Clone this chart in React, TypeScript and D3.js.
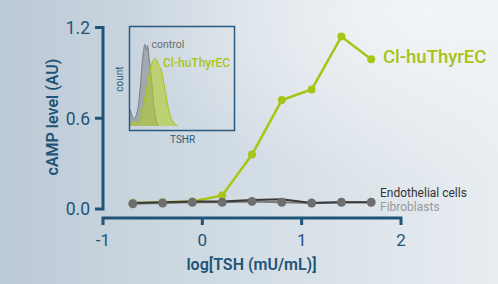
import React from "react";
import * as d3 from "d3";

const logTSH = [-0.7, -0.4, -0.1, 0.2, 0.5, 0.8, 1.1, 1.4, 1.7];
const huThyrEC = [0.04, 0.045, 0.05, 0.09, 0.36, 0.72, 0.79, 1.14, 0.99];
const endothelial = [0.04, 0.045, 0.05, 0.05, 0.06, 0.065, 0.04, 0.045, 0.045];
const fibroblasts = [0.035, 0.04, 0.045, 0.045, 0.05, 0.045, 0.04, 0.045, 0.045];
const xTicks = [-1, 0, 1, 2];
const yTicks = [0.0, 0.6, 1.2];

// inset histograms (channel 0..100, count 0..100)
const ctrlChan = [0, 3.8, 6.7, 9.6, 12.5, 14.4, 15.9, 16.8, 18.3, 20.2, 22.1, 23, 25, 26, 27.9];
const ctrlCount = [17.7, 7.3, 13.5, 37.5, 74, 85, 79, 84, 71, 54, 32, 20, 8, 3, 0];
const ecChan = [0, 2.9, 5.8, 8.7, 11.5, 15.4, 18.3, 20.2, 22.1, 24, 26, 27.9, 29.8, 31.7, 33.7, 35.6, 37.5, 39.4, 42.3, 46.2];
const ecCount = [2, 5, 2.6, 5, 14.6, 36, 53, 62.5, 68, 70, 68, 62.5, 59, 50, 37.5, 26, 15.6, 8.3, 3, 0];

const AX = "#1f5478";
const GREEN = "#a8c414";
const FONT = "Roboto, 'Noto Sans', sans-serif";

export default function App() {
  const x = d3.scaleLinear().domain([-1, 2]).range([103, 401]);
  const y = d3.scaleLinear().domain([0, 1.2]).range([209, 27.5]);
  const line = d3
    .line<[number, number]>()
    .x((d) => x(d[0]))
    .y((d) => y(d[1]));
  const pts = (vals: number[]) => logTSH.map((v, i) => [v, vals[i]] as [number, number]);

  const ix = d3.scaleLinear().domain([0, 100]).range([130, 234]);
  const iy = d3.scaleLinear().domain([0, 100]).range([126, 30]);
  const area = d3
    .area<[number, number]>()
    .x((d) => ix(d[0]))
    .y0(iy(0))
    .y1((d) => iy(d[1]))
    .curve(d3.curveCatmullRom);
  const hline = d3
    .line<[number, number]>()
    .x((d) => ix(d[0]))
    .y((d) => iy(d[1]))
    .curve(d3.curveCatmullRom);
  const ctrl = ctrlChan.map((c, i) => [c, ctrlCount[i]] as [number, number]);
  const ec = ecChan.map((c, i) => [c, ecCount[i]] as [number, number]);

  return (
    <svg
      width={498}
      height={284}
      style={{ position: "absolute", left: 0, top: 0, fontFamily: FONT }}
    >
      <defs>
        <linearGradient id="bg" x1="0" y1="0" x2="1" y2="0">
          <stop offset="0" stopColor="#bccad6" />
          <stop offset="0.5" stopColor="#d3dde5" />
          <stop offset="1" stopColor="#e8edf1" />
        </linearGradient>
        <radialGradient id="hl" cx="0.85" cy="0.05" r="0.6">
          <stop offset="0" stopColor="#f4f6f8" stopOpacity="0.9" />
          <stop offset="1" stopColor="#f4f6f8" stopOpacity="0" />
        </radialGradient>
      </defs>
      <rect width={498} height={284} fill="url(#bg)" />
      <rect width={498} height={284} fill="url(#hl)" />

      {/* inset */}
      <g>
        <path d={area(ctrl) || ""} fill="#9aa1a8" fillOpacity={0.85} />
        <path d={hline(ctrl) || ""} fill="none" stroke="#7a7f84" strokeWidth={1} />
        <path d={area(ec) || ""} fill="#b2cc2c" fillOpacity={0.6} />
        <path d={hline(ec) || ""} fill="none" stroke={GREEN} strokeWidth={1} />
        <rect x={129.5} y={26.5} width={105} height={104} fill="none" stroke="#2a5a80" strokeWidth={1.5} />
        <text x={151.5} y={47.5} fontSize={10.5} fill="#6a6a6a">control</text>
        <text x={163} y={67} fontSize={12} fontWeight={500} fill={GREEN}>Cl-huThyrEC</text>
        <text
          transform="translate(123,79) rotate(-90)"
          textAnchor="middle"
          fontSize={10}
          fill="#2a5a80"
        >
          count
        </text>
        <text x={170} y={143} fontSize={10} fill="#2a5a80">TSHR</text>
      </g>

      {/* axes */}
      <path
        d={`M${x(-1)},225V218H${x(2)}V225`}
        fill="none"
        stroke={AX}
        strokeWidth={3}
      />
      {xTicks.slice(1, -1).map((t) => (
        <line key={t} x1={x(t)} x2={x(t)} y1={218} y2={225} stroke={AX} strokeWidth={3} />
      ))}
      {xTicks.map((t) => (
        <text key={t} x={x(t)} y={246} textAnchor="middle" fontSize={17} fill={AX}>
          {t}
        </text>
      ))}
      <path
        d={`M95,${y(1.2)}H103V${y(0)}H95`}
        fill="none"
        stroke={AX}
        strokeWidth={3}
      />
      {yTicks.slice(1, -1).map((t) => (
        <line key={t} x1={95} x2={103} y1={y(t)} y2={y(t)} stroke={AX} strokeWidth={3} />
      ))}
      {yTicks.map((t) => (
        <text key={t} x={90} y={y(t)} dy="0.36em" textAnchor="end" fontSize={17.5} fill={AX}>
          {t.toFixed(1)}
        </text>
      ))}
      <text
        transform="translate(58,117) rotate(-90)"
        textAnchor="middle"
        fontSize={16}
        fontWeight={600}
        fill={AX}
      >
        cAMP level (AU)
      </text>
      <text x={251.5} y={270} textAnchor="middle" fontSize={16} fontWeight={600} fill={AX}>
        log[TSH (mU/mL)]
      </text>

      {/* series */}
      <path d={line(pts(huThyrEC)) || ""} fill="none" stroke={GREEN} strokeWidth={2.5} />
      {pts(huThyrEC).map((d, i) => (
        <circle key={i} cx={x(d[0])} cy={y(d[1])} r={4} fill={GREEN} />
      ))}
      <path d={line(pts(fibroblasts)) || ""} fill="none" stroke="#7a7a7a" strokeWidth={2} />
      <path d={line(pts(endothelial)) || ""} fill="none" stroke="#3a3a3a" strokeWidth={2} />
      {pts(fibroblasts).map((d, i) => (
        <circle key={i} cx={x(d[0])} cy={y(d[1])} r={4.5} fill="#6e6e6e" />
      ))}

      <text x={383} y={63} fontSize={18.5} fontWeight={500} fill={GREEN}>Cl-huThyrEC</text>
      <text x={380} y={197} fontSize={12} fill="#333">Endothelial cells</text>
      <text x={380} y={211} fontSize={12} fill="#999">Fibroblasts</text>
    </svg>
  );
}
